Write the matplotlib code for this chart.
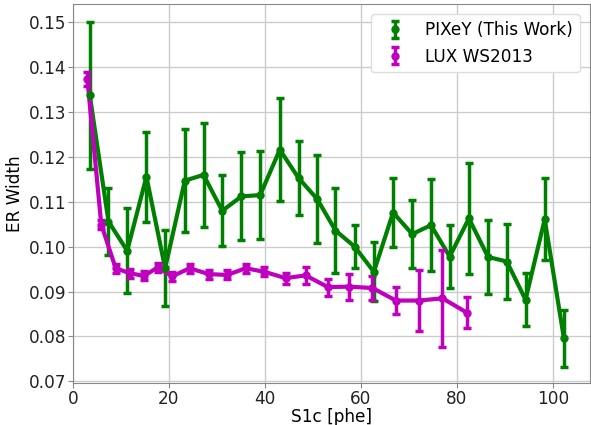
import numpy as np
import matplotlib
matplotlib.use('Agg')
import matplotlib.pyplot as plt

# PIXeY points
pix_x = [3.5, 7.4, 11.3, 15.3, 19.2, 23.3, 27.2, 31.1, 35.1, 39.0, 43.1, 47.0, 50.9,
         54.7, 58.7, 62.7, 66.7, 70.7, 74.6, 78.5, 82.5, 86.5, 90.4, 94.3, 98.3, 102.3]
pix_y = [0.1337, 0.1056, 0.0991, 0.1156, 0.0952, 0.1147, 0.1160, 0.1080, 0.1112,
         0.1115, 0.1216, 0.1153, 0.1106, 0.1036, 0.1000, 0.0944, 0.1076, 0.1028,
         0.1048, 0.0978, 0.1063, 0.0977, 0.0967, 0.0882, 0.1061, 0.0796]
pix_err = [0.0164, 0.0075, 0.0095, 0.0100, 0.0085, 0.0115, 0.0116, 0.0079, 0.0098,
           0.0098, 0.0115, 0.0083, 0.0098, 0.0095, 0.0048, 0.0066, 0.0076, 0.0076,
           0.0103, 0.0071, 0.0124, 0.0083, 0.0084, 0.0059, 0.0091, 0.0063]

# LUX WS2013 points
lux_x = [3.0, 5.9, 8.9, 11.8, 14.8, 17.7, 20.7, 24.3, 28.3, 32.1, 36.0, 39.9, 44.3,
         48.5, 53.1, 57.5, 62.4, 67.3, 72.1, 77.0, 82.1]
lux_y = [0.1373, 0.1049, 0.0952, 0.0941, 0.0935, 0.0954, 0.0934, 0.0952, 0.0939,
         0.0937, 0.0952, 0.0944, 0.0930, 0.0936, 0.0910, 0.0911, 0.0908, 0.0880,
         0.0880, 0.0885, 0.0853]
lux_err = [0.0015, 0.0010, 0.0010, 0.0010, 0.0010, 0.0010, 0.0010, 0.0010, 0.0010,
           0.0010, 0.0010, 0.0010, 0.0012, 0.0018, 0.0019, 0.0029, 0.0027, 0.0030,
           0.0068, 0.0108, 0.0035]

plt.rcParams['font.size'] = 12.2
fig = plt.figure(figsize=(5.91, 4.25), dpi=100)
ax = fig.add_axes([0.1235, 0.098, 0.8745, 0.892])

ax.plot(pix_x, pix_y, color='g', lw=3)
ax.errorbar(pix_x, pix_y, yerr=pix_err, fmt='o', color='g', ms=5,
            elinewidth=2.5, capsize=3, capthick=2.5, label='PIXeY (This Work)')
ax.plot(lux_x, lux_y, color='m', lw=3)
ax.errorbar(lux_x, lux_y, yerr=lux_err, fmt='o', color='m', ms=5,
            elinewidth=2.5, capsize=3, capthick=2.5, label='LUX WS2013')

ax.set_xlim(0, 107.7)
ax.set_ylim(0.06956, 0.1540)
ax.set_xticks([0, 20, 40, 60, 80, 100])
ax.set_yticks(np.arange(0.07, 0.1501, 0.01))
ax.set_xlabel('S1c [phe]', labelpad=0)
ax.set_ylabel('ER Width', labelpad=3)
ax.grid(True, color='#cccccc', lw=1)
ax.set_axisbelow(True)
for s in ax.spines.values():
    s.set_color('#888888')
ax.tick_params(colors='#222222', length=3.5, pad=1.5, color='#888888')
ax.legend(loc='upper right', fontsize=12.2, framealpha=1, edgecolor='#dddddd',
          borderaxespad=0.6)

fig.savefig('out.png', dpi=100)
